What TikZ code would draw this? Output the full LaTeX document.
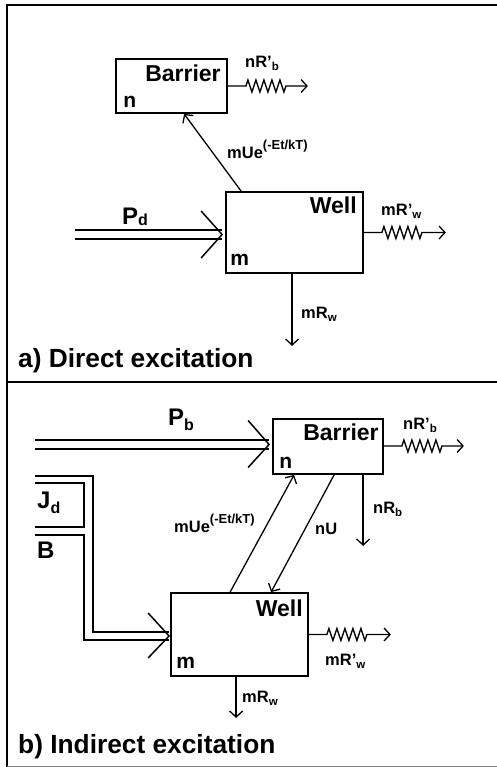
\documentclass[tikz,border=0pt]{standalone}
\usepackage{fontspec}
\setmainfont{Liberation Sans}
\usetikzlibrary{arrows.meta,decorations.pathmorphing}
\newcommand\fs[1]{\fontsize{#1}{#1}\selectfont}
\newcommand\dn[3]{\raisebox{#1}{\fs{#2}#3}}
\tikzset{
  boxa/.style={draw, line width=1.8pt, inner sep=0pt},
  lbl/.style={font=\bfseries\fs{23}, inner sep=0pt},
  lblsm/.style={font=\bfseries\fs{21}, inner sep=0pt},
  small/.style={font=\bfseries\fs{16.5}, inner sep=0pt, anchor=base west},
  big/.style={font=\bfseries\fs{24}, inner sep=0pt, anchor=base west},
  title/.style={font=\bfseries\fs{26.3}, inner sep=0pt, anchor=base west},
  arr/.style={line width=1.3pt, -{Straight Barb[length=6pt,width=13pt]}},
  res/.style={line width=1.3pt, -{Straight Barb[length=6pt,width=13pt]}, decorate,
    decoration={zigzag, amplitude=6pt, segment length=8pt, pre length=18pt, post length=22pt}},
  dbl/.style={double, double distance=7pt, line width=1.6pt},
  chan/.style={line width=1.6pt},
  chev/.style={line width=1.5pt},
}
\begin{document}
\begin{tikzpicture}[x=1pt,y=-1pt]
\useasboundingbox (0,0) rectangle (497,767);
% frame
\draw[line width=2pt] (7,767) -- (7,5) -- (497,5);
\draw[line width=1.5pt] (7,382) -- (497,382);
\draw[line width=0.8pt, gray] (7,766) -- (497,766);

% ---------- panel a ----------
\node[boxa, minimum width=111pt, minimum height=54pt] (ba) at (171.5,86) {};
\node[boxa, minimum width=137pt, minimum height=81pt] (wa) at (294.5,232.5) {};
\node[lbl, anchor=base east] (baT) at ([shift={(-7,23)}]ba.north east) {Barrier};
\node[lblsm, anchor=base west] (baN) at ([shift={(8,-6)}]ba.south west) {n};
\node[lbl, anchor=base east] (waT) at ([shift={(-7,22)}]wa.north east) {Well};
\node[lblsm, anchor=base west] (waM) at ([shift={(5,-8)}]wa.south west) {m};

\draw[arr] ([shift={(16,0)}]wa.north west) -- ([shift={(69,0)}]ba.south west);
\node[small] (la1) at (227,159) {mUe\dn{9pt}{13}{(-Et/kT)}};

\coordinate (rba) at ([shift={(80,0)}]ba.east);
\draw[res] (ba.east) -- (rba);
\node[small] (la2) at (245,68) {nR'\dn{-3pt}{11.5}{b}};

\coordinate (rwa) at ([shift={(82,0)}]wa.east);
\draw[res] (wa.east) -- (rwa);
\node[small] (la3) at (381,215) {mR'\dn{-3pt}{11.5}{w}};

\coordinate (dwa) at ([shift={(67,72)}]wa.south west);
\draw[arr] ([shift={(67,0)}]wa.south west) -- (dwa);
\node[small] (la4) at (301,318) {mR\dn{-3pt}{11.5}{w}};

\coordinate (tipA) at ([shift={(-3,2)}]wa.west);
\coordinate (pdS) at (75,234.5);
\draw[dbl] (pdS) -- (tipA);
\draw[chev] ([shift={(-21,-23.5)}]tipA) -- (tipA) -- ([shift={(-21,23.5)}]tipA);
\node[big] (pd) at (122,225) {P\dn{-1pt}{16}{d}};

\node[title] (ta) at (18,367) {a) Direct excitation};

% ---------- panel b ----------
\node[boxa, minimum width=110pt, minimum height=55pt] (bb) at (328,446.5) {};
\node[boxa, minimum width=137pt, minimum height=83pt] (wb) at (239.5,634.5) {};
\node[lbl, anchor=base east] (bbT) at ([shift={(-5,22)}]bb.north east) {Barrier};
\node[lblsm, anchor=base west] (bbN) at ([shift={(7,-6)}]bb.south west) {n};
\node[lbl, anchor=base east] (wbT) at ([shift={(-6,24)}]wb.north east) {Well};
\node[lblsm, anchor=base west] (wbM) at ([shift={(6,-8)}]wb.south west) {m};

\draw[arr] ([shift={(60,0)}]wb.north west) -- ([shift={(22,0)}]bb.south west);
\node[small] (lb1) at (174,532) {mUe\dn{9pt}{13}{(-Et/kT)}};
\draw[arr] ([shift={(62,0)}]bb.south west) -- ([shift={(101,0)}]wb.north west);
\node[small] (lb2) at (315,534) {nU};

\coordinate (dbb) at ([shift={(91,71)}]bb.south west);
\draw[arr] ([shift={(91,0)}]bb.south west) -- (dbb);
\node[small] (lb3) at (373,513) {nR\dn{-3pt}{11.5}{b}};

\coordinate (rbb) at ([shift={(80,0)}]bb.east);
\draw[res] ([shift={(0,-0.5)}]bb.east) -- ([shift={(0,-0.5)}]rbb);
\node[small] (lb4) at (403,429) {nR'\dn{-3pt}{11.5}{b}};

\coordinate (rwb) at ([shift={(82,0)}]wb.east);
\draw[res] (wb.east) -- (rwb);
\node[small] (lb5) at (325,665) {mR'\dn{-3pt}{11.5}{w}};

\coordinate (dwb) at ([shift={(66,41)}]wb.south west);
\draw[arr] ([shift={(66,0)}]wb.south west) -- (dwb);
\node[small] (lb6) at (242,702) {mR\dn{-3pt}{11.5}{w}};

\coordinate (tipB) at ([shift={(-3,-2)}]bb.west);
\coordinate (pbS) at (35,444.5);
\draw[dbl] (pbS) -- (tipB);
\draw[chev] ([shift={(-21,-24)}]tipB) -- (tipB) -- ([shift={(-21,23)}]tipB);
\node[big] (pb) at (168,425) {P\dn{-5pt}{16}{b}};

\coordinate (tipC) at ([shift={(-1,1.5)}]wb.west);
\coordinate (jdS) at (35,476);
\coordinate (jdI) at (35,483);
\coordinate (jdE) at (35,527);
\coordinate (bS) at (35,535);
\draw[chan] (jdS) -- (93,476) -- (93,632) -- ([shift={(0,-4)}]tipC);
\draw[chan] (jdI) -- (84,483) -- (84,527) -- (jdE);
\draw[chan] (bS) -- (84,535) -- (84,640) -- ([shift={(0,4)}]tipC);
\draw[chev] ([shift={(-21,-23)}]tipC) -- (tipC) -- ([shift={(-21,22)}]tipC);
\node[big] (jd) at (37,508) {J\dn{-5pt}{16}{d}};
\node[big] (bl) at (37,558) {B};

\node[title] (tb) at (18,753) {b) Indirect excitation};
\end{tikzpicture}
\end{document}
